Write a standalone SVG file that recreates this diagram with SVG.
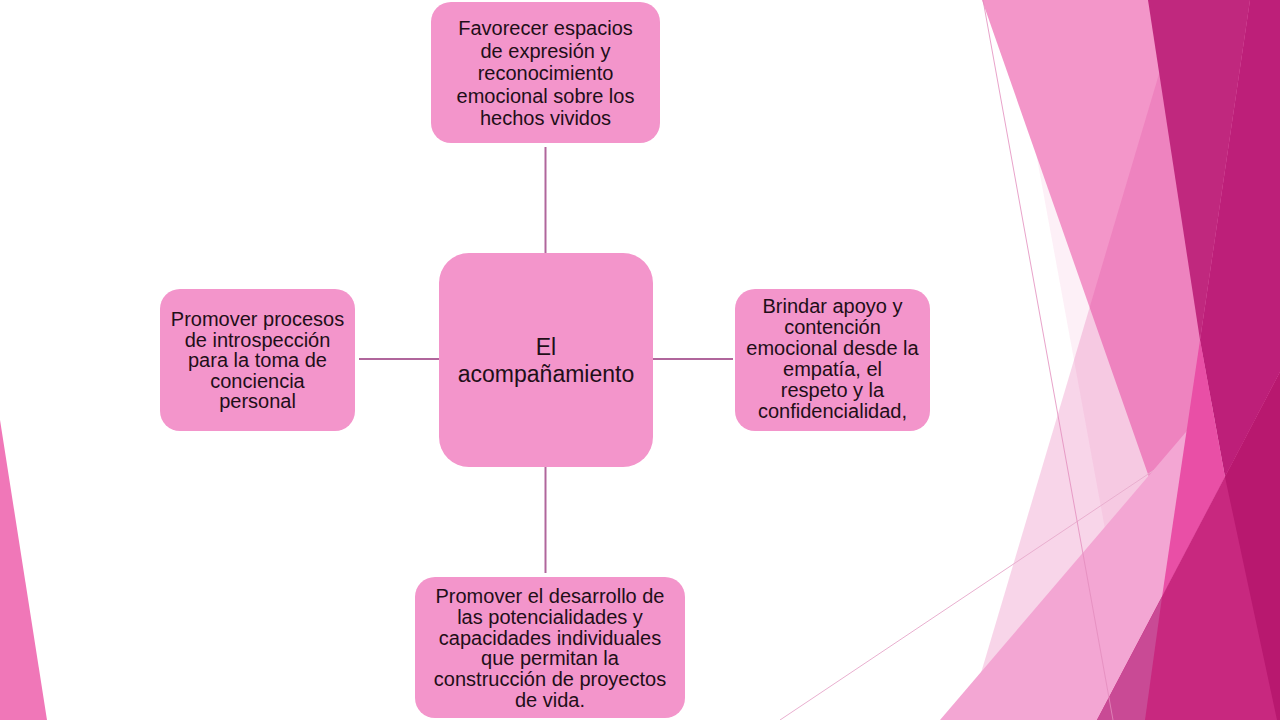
<svg xmlns="http://www.w3.org/2000/svg" width="1280" height="720" viewBox="0 0 1280 720">
  <style>
    .box { fill: #F395CB; }
    .lbl { font-family: "Liberation Sans", Arial, sans-serif; font-size: 20px; fill: #1F0F18; text-anchor: middle; }
    .big { font-size: 23px; }
    .conn { stroke: #B0669C; stroke-width: 2; fill: none; }
  </style>
  <rect x="0" y="0" width="1280" height="720" fill="#FFFFFF"/>
  <g id="decor-left">
    <polygon points="0,420 47,720 0,720" fill="#F077B8"/>
  </g>
  <g id="decor-right">
    <polygon points="1008,0 1280,0 1280,720 1140,720" fill="#E0409A" opacity="0.08"/>
    <polygon points="982,0 1280,0 1280,720 1234,720" fill="#F396C9"/>
    <polygon points="1181,0 1280,0 1280,720 967,720" fill="#E0409A" opacity="0.22"/>
    <line x1="780" y1="720" x2="1280" y2="386" stroke="#E9AFCF" stroke-width="1"/>
    <polygon points="940,720 1280,322 1280,720" fill="#F3A6D3"/>
    <polygon points="1148,0 1250,0 1200,340" fill="#C0287E"/>
    <polygon points="1250,0 1280,0 1280,372 1225,477 1200,340" fill="#BD1F79"/>
    <polygon points="1200,340 1225,477 1162,597" fill="#E94FA6"/>
    <polygon points="1097,720 1280,372 1280,720" fill="#C8287F"/>
    <polygon points="1162,597 1145,720 1097,720" fill="#C94A95"/>
    <polygon points="1225,477 1280,372 1280,720 1277,720" fill="#B8186F"/>
    <line x1="983" y1="0" x2="1113" y2="720" stroke="#E48DBE" stroke-width="1" opacity="0.8"/>
  </g>
  <g id="connectors">
    <line class="conn" x1="545.5" y1="147" x2="545.5" y2="253"/>
    <line class="conn" x1="359" y1="359" x2="439" y2="359"/>
    <line class="conn" x1="653" y1="359" x2="733" y2="359"/>
    <line class="conn" x1="545.5" y1="467" x2="545.5" y2="573"/>
  </g>
  <g id="node-center">
    <rect class="box" x="439" y="253" width="214" height="214" rx="30"/>
    <text class="lbl big" x="546" y="355">El</text>
    <text class="lbl big" x="546" y="382">acompañamiento</text>
  </g>
  <g id="node-top">
    <rect class="box" x="431" y="2" width="229" height="141" rx="20"/>
    <text class="lbl" x="545.5" y="35">Favorecer  espacios</text>
    <text class="lbl" x="545.5" y="57.5">de expresión y</text>
    <text class="lbl" x="545.5" y="80">reconocimiento</text>
    <text class="lbl" x="545.5" y="102.5">emocional sobre los</text>
    <text class="lbl" x="545.5" y="125">hechos vividos</text>
  </g>
  <g id="node-left">
    <rect class="box" x="160" y="289" width="195" height="142" rx="20"/>
    <text class="lbl" x="257.5" y="326">Promover procesos</text>
    <text class="lbl" x="257.5" y="346.5">de introspección</text>
    <text class="lbl" x="257.5" y="367">para la toma de</text>
    <text class="lbl" x="257.5" y="387.5">conciencia</text>
    <text class="lbl" x="257.5" y="408">personal</text>
  </g>
  <g id="node-right">
    <rect class="box" x="735" y="289" width="195" height="142" rx="20"/>
    <text class="lbl" x="832.5" y="313">Brindar apoyo y</text>
    <text class="lbl" x="832.5" y="334">contención</text>
    <text class="lbl" x="832.5" y="355">emocional desde la</text>
    <text class="lbl" x="832.5" y="376">empatía, el</text>
    <text class="lbl" x="832.5" y="397">respeto y la</text>
    <text class="lbl" x="832.5" y="418">confidencialidad,</text>
  </g>
  <g id="node-bottom">
    <rect class="box" x="415" y="577" width="270" height="141" rx="20"/>
    <text class="lbl" x="550" y="603">Promover el desarrollo de</text>
    <text class="lbl" x="550" y="624">las potencialidades y</text>
    <text class="lbl" x="550" y="644.5">capacidades individuales</text>
    <text class="lbl" x="550" y="665">que permitan la</text>
    <text class="lbl" x="550" y="686">construcción de proyectos</text>
    <text class="lbl" x="550" y="706.5">de vida.</text>
  </g>
</svg>
